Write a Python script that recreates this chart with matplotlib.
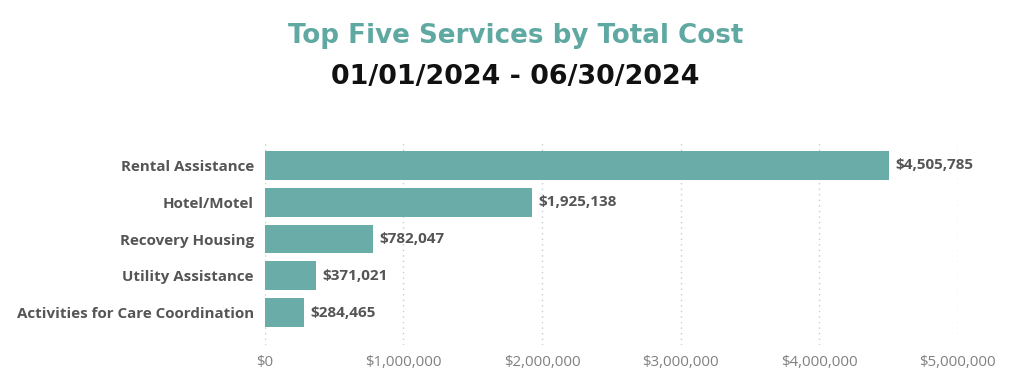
import matplotlib
matplotlib.use("Agg")
import matplotlib.pyplot as plt
from matplotlib.ticker import FuncFormatter

categories = ["Rental Assistance", "Hotel/Motel", "Recovery Housing",
              "Utility Assistance", "Activities for Care Coordination"]
values = [4505785, 1925138, 782047, 371021, 284465]
xticks = [0, 1000000, 2000000, 3000000, 4000000, 5000000]

fig = plt.figure(figsize=(10.33, 3.81), dpi=100)
ax = fig.add_axes([0.2565, 0.0945, 0.927 - 0.2565, 0.6325 - 0.0945])

bar_color = "#69aca8"
ypos = list(range(len(categories)))
ax.barh(ypos, values, height=0.78, color=bar_color, zorder=2)
ax.set_xlim(0, 5000000)
ax.set_ylim(len(categories) - 1 + 0.88, -0.69)
ax.set_xticks(xticks)
ax.xaxis.set_major_formatter(FuncFormatter(lambda v, p: "${:,.0f}".format(v)))
ax.set_yticks(ypos)
ax.set_yticklabels(categories, fontsize=10.9, fontweight="bold", color="#555555",
                   family="Open Sans")
for lbl in ax.get_xticklabels():
    lbl.set_fontsize(10.8)
    lbl.set_color("#808080")
    lbl.set_family("Open Sans")
ax.tick_params(axis="both", length=0)
ax.tick_params(axis="y", pad=8)
ax.tick_params(axis="x", pad=7)
ax.grid(axis="x", linestyle=(0, (1, 3)), color="#cccccc", linewidth=1, zorder=0)
for s in ax.spines.values():
    s.set_visible(False)

for y, v in zip(ypos, values):
    ax.text(v + 45000, y, "${:,.0f}".format(v), va="center", ha="left",
            fontsize=11, fontweight="bold", color="#555555", family="Open Sans")

fig.text(0.499, 1 - 36 / 381, "Top Five Services by Total Cost", ha="center", va="center",
         fontsize=18.8, fontweight="bold", color="#5fa9a2", family="DejaVu Sans")
fig.text(0.499, 1 - 77 / 381, "01/01/2024 - 06/30/2024", ha="center", va="center",
         fontsize=19.4, fontweight="bold", color="#111111", family="DejaVu Sans")

fig.savefig("out.png", dpi=100)
